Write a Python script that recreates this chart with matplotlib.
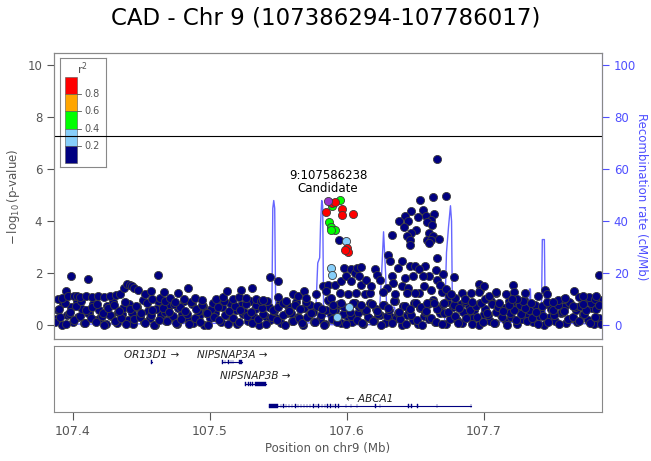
import numpy as np
import matplotlib.pyplot as plt
from matplotlib.patches import Rectangle

# ── Data ────────────────────────────────────────────────────────────────────
x_min, x_max = 107.386294, 107.786017
lead_pos, lead_logp = 107.586238, 4.78
sig_line = 7.3

# dense cloud of weak SNPs (r2 < 0.2)
band_pos = [
    107.387, 107.389, 107.391, 107.393, 107.395, 107.397, 107.399, 107.401, 107.403, 107.405,
    107.407, 107.409, 107.411, 107.413, 107.415, 107.417, 107.419, 107.421, 107.423, 107.425,
    107.427, 107.429, 107.431, 107.433, 107.435, 107.437, 107.439, 107.441, 107.443, 107.445,
    107.447, 107.449, 107.451, 107.453, 107.455, 107.457, 107.459, 107.461, 107.463, 107.465,
    107.467, 107.469, 107.471, 107.473, 107.475, 107.477, 107.479, 107.481, 107.483, 107.485,
    107.487, 107.489, 107.491, 107.493, 107.495, 107.497, 107.499, 107.501, 107.503, 107.505,
    107.507, 107.509, 107.511, 107.513, 107.515, 107.517, 107.519, 107.521, 107.523, 107.525,
    107.527, 107.529, 107.531, 107.533, 107.535, 107.537, 107.539, 107.541, 107.543, 107.545,
    107.547, 107.549, 107.551, 107.553, 107.555, 107.557, 107.559, 107.561, 107.563, 107.565,
    107.567, 107.569, 107.571, 107.573, 107.575, 107.577, 107.579, 107.581, 107.583, 107.585,
    107.587, 107.589, 107.591, 107.593, 107.595, 107.597, 107.599, 107.601, 107.603, 107.605,
    107.607, 107.609, 107.611, 107.613, 107.615, 107.617, 107.619, 107.621, 107.623, 107.625,
    107.627, 107.629, 107.631, 107.633, 107.635, 107.637, 107.639, 107.641, 107.643, 107.645,
    107.647, 107.649, 107.651, 107.653, 107.655, 107.657, 107.659, 107.661, 107.663, 107.665,
    107.667, 107.669, 107.671, 107.673, 107.675, 107.677, 107.679, 107.681, 107.683, 107.685,
    107.687, 107.689, 107.691, 107.693, 107.695, 107.697, 107.699, 107.701, 107.703, 107.705,
    107.707, 107.709, 107.711, 107.713, 107.715, 107.717, 107.719, 107.721, 107.723, 107.725,
    107.727, 107.729, 107.731, 107.733, 107.735, 107.737, 107.739, 107.741, 107.743, 107.745,
    107.747, 107.749, 107.751, 107.753, 107.755, 107.757, 107.759, 107.761, 107.763, 107.765,
    107.767, 107.769, 107.771, 107.773, 107.775, 107.777, 107.779, 107.781, 107.783, 107.785,
]
band_logp = [
    0.12, 0.58, 0.31, 0.86, 0.05, 0.44, 0.71, 0.22, 0.93, 0.37,
    0.65, 0.08, 0.49, 0.27, 0.81, 0.14, 0.60, 0.35, 0.02, 0.76,
    0.41, 0.90, 0.18, 0.53, 0.29, 0.68, 0.07, 0.84, 0.46, 0.25,
    0.72, 0.33, 0.97, 0.11, 0.57, 0.40, 0.03, 0.63, 0.20, 0.88,
    0.50, 0.16, 0.79, 0.38, 0.09, 0.67, 0.26, 0.92, 0.43, 0.06,
    0.83, 0.28, 0.55, 0.13, 0.74, 0.47, 0.01, 0.62, 0.34, 0.89,
    0.19, 0.70, 0.42, 0.04, 0.87, 0.30, 0.59, 0.15, 0.78, 0.51,
    0.36, 0.95, 0.10, 0.64, 0.24, 0.82, 0.45, 0.07, 0.69, 0.32,
    0.56, 0.21, 0.85, 0.39, 0.02, 0.75, 0.48, 0.17, 0.91, 0.28,
    0.08, 0.66, 0.33, 0.80, 0.52, 0.12, 0.73, 0.40, 0.03, 0.61,
    0.94, 0.26, 0.58, 0.14, 0.77, 0.45, 0.05, 0.68, 0.37, 0.86,
    0.22, 0.71, 0.09, 0.54, 0.31, 0.88, 0.17, 0.63, 0.43, 0.01,
    0.79, 0.35, 0.60, 0.11, 0.92, 0.49, 0.25, 0.74, 0.06, 0.57,
    0.41, 0.85, 0.19, 0.67, 0.03, 0.52, 0.81, 0.29, 0.96, 0.13,
    0.62, 0.07, 0.46, 0.90, 0.23, 0.70, 0.38, 0.10, 0.83, 0.50,
    0.27, 0.76, 0.04, 0.59, 0.34, 0.87, 0.15, 0.65, 0.42, 0.93,
    0.09, 0.53, 0.80, 0.32, 0.68, 0.02, 0.47, 0.89, 0.20, 0.72,
    0.44, 0.97, 0.16, 0.61, 0.28, 0.78, 0.05, 0.55, 0.36, 0.84,
    0.13, 0.64, 0.39, 0.91, 0.07, 0.50, 0.75, 0.24, 0.86, 0.31,
    0.58, 0.18, 0.73, 0.45, 0.95, 0.11, 0.66, 0.33, 0.82, 0.04,
]

base_pos = [
    107.388, 107.392, 107.396, 107.400, 107.404, 107.408, 107.412, 107.416, 107.420, 107.424,
    107.428, 107.432, 107.436, 107.440, 107.444, 107.448, 107.452, 107.456, 107.460, 107.464,
    107.468, 107.472, 107.476, 107.480, 107.484, 107.488, 107.492, 107.496, 107.500, 107.504,
    107.508, 107.512, 107.516, 107.520, 107.524, 107.528, 107.532, 107.536, 107.540, 107.544,
    107.548, 107.552, 107.556, 107.560, 107.564, 107.568, 107.572, 107.576, 107.580, 107.584,
    107.588, 107.592, 107.596, 107.600, 107.604, 107.608, 107.612, 107.616, 107.620, 107.624,
    107.628, 107.632, 107.636, 107.640, 107.644, 107.648, 107.652, 107.656, 107.660, 107.664,
    107.668, 107.672, 107.676, 107.680, 107.684, 107.688, 107.692, 107.696, 107.700, 107.704,
    107.708, 107.712, 107.716, 107.720, 107.724, 107.728, 107.732, 107.736, 107.740, 107.744,
    107.748, 107.752, 107.756, 107.760, 107.764, 107.768, 107.772, 107.776, 107.780, 107.784,
]
base_logp = [
    0.25, 0.02, 0.40, 0.15, 0.33, 0.08, 0.47, 0.19, 0.30, 0.04,
    0.36, 0.11, 0.44, 0.22, 0.06, 0.38, 0.14, 0.28, 0.01, 0.42,
    0.17, 0.32, 0.05, 0.45, 0.24, 0.10, 0.35, 0.03, 0.27, 0.48,
    0.12, 0.39, 0.21, 0.07, 0.43, 0.16, 0.31, 0.00, 0.37, 0.20,
    0.29, 0.09, 0.46, 0.18, 0.34, 0.02, 0.41, 0.13, 0.26, 0.06,
    0.44, 0.23, 0.08, 0.36, 0.15, 0.49, 0.04, 0.30, 0.19, 0.40,
    0.11, 0.33, 0.27, 0.01, 0.42, 0.20, 0.07, 0.38, 0.24, 0.14,
    0.47, 0.05, 0.31, 0.22, 0.10, 0.35, 0.28, 0.03, 0.45, 0.17,
    0.09, 0.40, 0.16, 0.32, 0.06, 0.25, 0.43, 0.12, 0.37, 0.02,
    0.34, 0.18, 0.48, 0.08, 0.29, 0.14, 0.39, 0.21, 0.05, 0.30,
]

mid_pos = [
    107.390, 107.394, 107.398, 107.402, 107.406, 107.410, 107.414, 107.418, 107.422, 107.426,
    107.430, 107.434, 107.438, 107.442, 107.446, 107.450, 107.454, 107.458, 107.462, 107.466,
    107.470, 107.474, 107.478, 107.482, 107.486, 107.490, 107.494, 107.498, 107.502, 107.506,
    107.510, 107.514, 107.518, 107.522, 107.526, 107.530, 107.534, 107.538, 107.542, 107.546,
    107.550, 107.554, 107.558, 107.562, 107.566, 107.570, 107.574, 107.578, 107.582, 107.586,
    107.590, 107.594, 107.598, 107.602, 107.606, 107.610, 107.614, 107.618, 107.622, 107.626,
    107.630, 107.634, 107.638, 107.642, 107.646, 107.650, 107.654, 107.658, 107.662, 107.666,
    107.670, 107.674, 107.678, 107.682, 107.686, 107.690, 107.694, 107.698, 107.702, 107.706,
    107.710, 107.714, 107.718, 107.722, 107.726, 107.730, 107.734, 107.738, 107.742, 107.746,
    107.750, 107.754, 107.758, 107.762, 107.766, 107.770, 107.774, 107.778, 107.782, 107.786,
]
mid_logp = [
    0.62, 0.88, 0.51, 0.76, 0.93, 0.58, 0.70, 0.84, 0.47, 0.66,
    0.79, 0.55, 0.91, 0.64, 0.73, 0.49, 0.86, 0.60, 0.95, 0.68,
    0.53, 0.81, 0.72, 0.57, 0.89, 0.63, 0.77, 0.46, 0.85, 0.69,
    0.92, 0.56, 0.74, 0.61, 0.83, 0.50, 0.78, 0.67, 0.94, 0.59,
    0.71, 0.87, 0.54, 0.80, 0.65, 0.90, 0.48, 0.75, 0.62, 0.96,
    0.58, 0.82, 0.69, 0.52, 0.88, 0.73, 0.60, 0.84, 0.55, 0.79,
    0.67, 0.93, 0.50, 0.76, 0.63, 0.86, 0.71, 0.57, 0.90, 0.64,
    0.81, 0.53, 0.77, 0.68, 0.95, 0.59, 0.74, 0.87, 0.49, 0.83,
    0.70, 0.56, 0.92, 0.61, 0.78, 0.66, 0.85, 0.51, 0.73, 0.89,
    0.60, 0.80, 0.54, 0.91, 0.69, 0.75, 0.58, 0.86, 0.63, 0.97,
]

# stronger r2 < 0.2 SNPs above the cloud
top_pos = [
    107.3890, 107.3919, 107.3949, 107.3963, 107.3990, 107.4007, 107.4029, 107.4051, 107.4095, 107.4112,
    107.4139, 107.4183, 107.4227, 107.4271, 107.4315, 107.4345, 107.4374, 107.4398, 107.4418, 107.4433,
    107.4448, 107.4479, 107.4528, 107.4572, 107.4580, 107.4619, 107.4638, 107.4663, 107.4675, 107.4712,
    107.4748, 107.4770, 107.4814, 107.4842, 107.4895, 107.4946, 107.5042, 107.5093, 107.5128, 107.5167,
    107.5211, 107.5230, 107.5262, 107.5304, 107.5335, 107.5372, 107.5387, 107.5440, 107.5499, 107.5495,
    107.5531, 107.5555, 107.5605, 107.5641, 107.5690, 107.5702,
    107.5776, 107.5825, 107.5861, 107.5915, 107.5849, 107.5886, 107.5947, 107.5959, 107.5959, 107.5979,
    107.5996, 107.6008, 107.6032, 107.6032, 107.6045, 107.6057, 107.6069, 107.6076, 107.6086, 107.6106,
    107.6106, 107.6106, 107.6130, 107.6142, 107.6167, 107.6179, 107.6203, 107.6216, 107.6240, 107.5898,
    107.5942,
    107.6655, 107.6532, 107.6627, 107.6721, 107.6558, 107.6469, 107.6422, 107.6378, 107.6447, 107.6517,
    107.6578, 107.6634, 107.6615, 107.6581, 107.6622, 107.6418, 107.6505, 107.6469, 107.6440, 107.6457,
    107.6462, 107.6332, 107.6602, 107.6627, 107.6671, 107.6583, 107.6615, 107.6602, 107.6656, 107.6302,
    107.6313, 107.6399, 107.6375, 107.6460, 107.6497, 107.6570, 107.6522, 107.6651, 107.6595, 107.6698,
    107.6656, 107.6779, 107.6326, 107.6485, 107.6423, 107.6558, 107.6333, 107.6399, 107.6448, 107.6522,
    107.6962, 107.6974, 107.6693, 107.6742, 107.7084, 107.6289, 107.6350, 107.6436, 107.6497, 107.6583,
    107.6632, 107.6705, 107.6790, 107.6839, 107.6864, 107.6908, 107.6913, 107.6966, 107.7010, 107.7035,
    107.6260, 107.6560, 107.6610, 107.6680, 107.6720, 107.6760,
    107.7838, 107.7214, 107.7089, 107.7157, 107.7297, 107.7219, 107.7390, 107.7446, 107.7456, 107.7659,
    107.7690, 107.7769, 107.7806, 107.7586, 107.7536, 107.7500, 107.7285, 107.7243, 107.7109, 107.7182,
    107.7720, 107.7646, 107.7837, 107.6999, 107.7206, 107.7593, 107.7725, 107.7813,
]
top_logp = [
    1.00, 1.05, 1.31, 1.12, 1.89, 1.15, 1.12, 1.10, 1.12, 1.80,
    1.10, 1.12, 1.08, 1.14, 1.16, 1.22, 1.45, 1.61, 1.57, 1.50,
    1.45, 1.38, 1.20, 1.33, 1.00, 1.95, 1.05, 1.28, 0.95, 1.06,
    0.89, 1.25, 1.00, 1.42, 1.05, 0.98, 1.00, 1.10, 1.33, 1.03,
    1.10, 1.37, 1.05, 1.43, 1.00, 0.93, 0.98, 1.87, 1.70, 1.10,
    0.87, 0.93, 1.19, 1.12, 1.31, 1.06,
    1.19, 1.51, 1.57, 1.57, 1.31, 1.06, 1.25, 1.70, 0.87, 2.21,
    1.89, 1.19, 2.17, 1.70, 0.87, 2.02, 1.25, 2.22, 1.89, 2.24,
    1.57, 0.80, 1.19, 1.76, 1.25, 1.50, 2.15, 1.95, 1.76, 0.80,
    3.30,
    6.39, 4.83, 4.95, 4.99, 4.44, 4.38, 4.21, 4.03, 4.00, 4.16,
    4.19, 4.29, 4.06, 3.98, 3.87, 3.78, 3.65, 3.55, 3.45, 3.30,
    3.10, 3.49, 3.55, 3.42, 3.33, 3.30, 3.30, 3.17, 2.59, 2.72,
    2.46, 2.46, 2.21, 2.30, 2.30, 2.30, 2.15, 2.12, 1.89, 1.98,
    1.76, 1.87, 1.89, 1.89, 1.83, 1.89, 1.64, 1.51, 1.44, 1.25,
    1.61, 1.35, 1.28, 1.15, 1.25, 1.44, 1.19, 1.25, 1.23, 0.87,
    0.87, 0.87, 1.06, 1.23, 1.00, 1.23, 0.90, 1.28, 1.00, 1.12,
    1.30, 1.50, 1.35, 1.55, 1.40, 1.20,
    1.95, 1.54, 1.28, 1.19, 1.25, 1.30, 1.12, 1.38, 1.19, 1.31,
    1.10, 1.09, 1.03, 1.00, 0.96, 0.89, 0.93, 1.00, 0.87, 0.80,
    0.83, 0.74, 0.80, 1.51, 1.00, 1.06, 1.12, 1.15,
]

# SNPs in LD with the candidate
lb_pos = [107.5996, 107.5886, 107.5894, 107.6015, 107.5930]      # r2 0.2-0.4
lb_logp = [3.23, 2.21, 1.93, 0.72, 0.33]
green_pos = [107.5949, 107.5894, 107.5867, 107.5881, 107.5910, 107.5886]  # r2 0.4-0.6
green_logp = [4.83, 4.60, 3.97, 3.78, 3.68, 3.65]
red_pos = [107.5894, 107.5916, 107.5847, 107.5961, 107.5964, 107.6042, 107.6000, 107.6007, 107.5985]  # r2 > 0.8
red_logp = [4.70, 4.76, 4.36, 4.48, 4.23, 4.28, 2.98, 2.81, 2.90]

# recombination rate (cM/Mb)
recomb_pos = [
    107.3864, 107.4563, 107.4927, 107.5437, 107.5452, 107.5459, 107.5466, 107.5473, 107.5481, 107.5495,
    107.5757, 107.5772, 107.5787, 107.5801, 107.5808, 107.5816, 107.5823, 107.5830, 107.5874, 107.5881,
    107.6216, 107.6224, 107.6238, 107.6253, 107.6267, 107.6282, 107.6289, 107.6347, 107.6362, 107.6712,
    107.6726, 107.6741, 107.6755, 107.6763, 107.6770, 107.7323, 107.7331, 107.7338, 107.7345, 107.7418,
    107.7425, 107.7440, 107.7447, 107.7860,
]
recomb_rate = [
    0.5, 0.6, 0.8, 0.8, 3, 45, 48, 45, 3, 0.8,
    1, 5, 24, 26, 40, 48, 46, 4, 3, 0.3,
    0.3, 4, 6, 20, 36, 20, 7, 7, 1, 1,
    28, 38, 46, 40, 2, 1, 14, 14, 1, 1,
    33, 33, 1, 0.5,
]

# genes: name, start, end, strand, row, exons
gene_names = ['OR13D1', 'NIPSNAP3A', 'NIPSNAP3B', 'ABCA1']
gene_start = [107.4569, 107.5092, 107.5255, 107.5432]
gene_end = [107.4580, 107.5231, 107.5408, 107.6905]
gene_strand = ['+', '+', '+', '-']
gene_row = [0.76, 0.76, 0.43, 0.09]
gene_exons = [
    [(107.4569, 107.4580)],
    [(107.5092, 107.5099), (107.5108, 107.5111), (107.5133, 107.5137), (107.5152, 107.5155),
     (107.5167, 107.5171), (107.5213, 107.5231)],
    [(107.5255, 107.5263), (107.5280, 107.5283), (107.5295, 107.5298), (107.5311, 107.5314),
     (107.5331, 107.5408)],
    [(107.5432, 107.5500), (107.5519, 107.5522), (107.5537, 107.5540), (107.5555, 107.5558),
     (107.5577, 107.5580), (107.5597, 107.5600), (107.5623, 107.5626), (107.5641, 107.5644),
     (107.5663, 107.5666), (107.5686, 107.5689), (107.5706, 107.5709), (107.5727, 107.5730),
     (107.5754, 107.5757), (107.5772, 107.5775), (107.5790, 107.5793), (107.5815, 107.5818),
     (107.5837, 107.5840), (107.5858, 107.5861), (107.5878, 107.5881), (107.5896, 107.5899),
     (107.5915, 107.5918), (107.5936, 107.5939), (107.5991, 107.5995), (107.6027, 107.6030),
     (107.6070, 107.6073), (107.6206, 107.6209), (107.6240, 107.6243), (107.6448, 107.6451),
     (107.6469, 107.6472), (107.6513, 107.6516), (107.6656, 107.6659), (107.6902, 107.6905)],
]

# ── Style ───────────────────────────────────────────────────────────────────
navy = '#000080'
ld_colors = ['#000080', '#87CEFA', '#00FF00', '#FFA500', '#FF0000']
gray = '#555555'
spine_gray = '#888888'
blue = '#4f4fff'

plt.rcParams['font.family'] = 'DejaVu Sans'
fig = plt.figure(figsize=(6.51, 4.61), dpi=100)

ax = fig.add_axes([0.0829, 0.2636, 0.8418, 0.6208])
ax2 = ax.twinx()
ax.set_zorder(ax2.get_zorder() + 1)
ax.patch.set_visible(False)

# recombination rate behind the points
ax2.plot(recomb_pos, recomb_rate, color='#3333ff', lw=1.0, alpha=0.75)
ax2.set_ylim(-5.4, 104.6)
ax2.set_yticks([0, 20, 40, 60, 80, 100])
ax2.tick_params(axis='y', colors=blue, labelsize=8.5, length=5)
ax2.set_ylabel('Recombination rate (cM/Mb)', color=blue, fontsize=8.5, rotation=270, labelpad=9)

sc = dict(s=34, edgecolors='#3c3c3c', linewidths=0.6)
ax.scatter(base_pos, base_logp, c=navy, **sc)
ax.scatter(band_pos, band_logp, c=navy, **sc)
ax.scatter(mid_pos, mid_logp, c=navy, **sc)
ax.scatter(top_pos, top_logp, c=navy, **sc)
ax.scatter(lb_pos, lb_logp, c=ld_colors[1], **sc)
ax.scatter(green_pos, green_logp, c=ld_colors[2], **sc)
ax.scatter(red_pos, red_logp, c=ld_colors[4], **sc)
ax.scatter([lead_pos], [lead_logp], c='#9932CC', **sc)

ax.axhline(sig_line, color='black', lw=0.8)
ax.text(lead_pos, lead_logp + 0.22, '9:107586238\nCandidate', ha='center', va='bottom',
        fontsize=8.5, linespacing=1.05)

ax.set_xlim(x_min, x_max)
ax.set_ylim(-0.54, 10.46)
ax.set_yticks([0, 2, 4, 6, 8, 10])
ax.set_xticks([])
ax.tick_params(axis='y', colors=gray, labelsize=8.5, length=5)
ax.set_ylabel(r'$-\,\log_{10}$(p-value)', color=gray, fontsize=8.5)
for a in (ax, ax2):
    for s in a.spines.values():
        s.set_color(spine_gray)
ax2.spines['right'].set_color(blue)

# r2 legend box
lg = fig.add_axes([60 / 651, 1 - 167 / 461, 46 / 651, 109 / 461])
lg.set_xlim(0, 46)
lg.set_ylim(109, 0)
lg.set_xticks([])
lg.set_yticks([])
for s in lg.spines.values():
    s.set_color(spine_gray)
block = 17.2
for i, col in enumerate(ld_colors[::-1]):
    lg.add_patch(Rectangle((5, 19 + i * block), 12, block, facecolor=col,
                           edgecolor='#555555', lw=0.4))
for i, lab in enumerate(['0.8', '0.6', '0.4', '0.2']):
    yy = 19 + (i + 1) * block
    lg.plot([17, 21], [yy, yy], color=gray, lw=0.6)
    lg.text(24, yy, lab, color=gray, fontsize=7, va='center', ha='left')
lg.text(22, 11, r'r$^2$', color=gray, fontsize=8, va='center', ha='center')

# gene track
gx = fig.add_axes([0.0829, 0.1063, 0.8418, 0.1432])
gx.set_xlim(x_min, x_max)
gx.set_ylim(0, 1)
gx.set_yticks([])
gx.set_xticks([107.4, 107.5, 107.6, 107.7])
gx.set_xticklabels(['107.4', '107.5', '107.6', '107.7'])
gx.tick_params(axis='x', colors=gray, labelsize=9, length=6)
gx.set_xlabel('Position on chr9 (Mb)', color=gray, fontsize=8.5, labelpad=3)
for s in gx.spines.values():
    s.set_color(spine_gray)

for name, st, en, strand, row, exons in zip(gene_names, gene_start, gene_end,
                                             gene_strand, gene_row, gene_exons):
    gx.plot([st, en], [row, row], color=navy, lw=0.8)
    for e0, e1 in exons:
        gx.add_patch(Rectangle((e0, row - 0.03), e1 - e0, 0.06, facecolor=navy,
                               edgecolor=navy, lw=0.3))
    label = f'{name} \u2192' if strand == '+' else f'\u2190 {name}'
    gx.text((st + en) / 2, row + 0.11, label, ha='center', va='center', fontsize=7.5,
            style='italic', color='#222222')

fig.suptitle('CAD - Chr 9 (107386294-107786017)', fontsize=16.5, y=0.985)

plt.savefig('out.png', dpi=100)
